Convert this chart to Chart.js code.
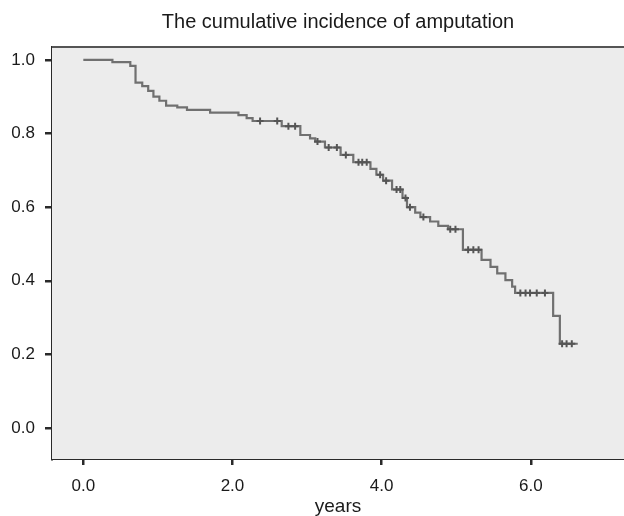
<!DOCTYPE html>
<html>
<head>
<meta charset="utf-8">
<script src="https://cdn.jsdelivr.net/npm/chart.js@4/dist/chart.umd.min.js"></script>
<style>
  html, body { margin: 0; padding: 0; background: #ffffff; overflow: hidden; }
  #wrap { width: 624px; height: 516px; }
</style>
</head>
<body>
<div id="wrap"><canvas id="c" width="624" height="516"></canvas></div>
<script>
// Step curve: event times (years) and survival level after each step
const stepTimes = [0, 0.39, 0.63, 0.70, 0.79, 0.87, 0.94, 1.02, 1.11, 1.26, 1.39, 1.70, 2.08, 2.19, 2.27,
  2.66, 2.91, 3.04, 3.11, 3.24, 3.45, 3.62, 3.85, 3.93, 4.02, 4.14, 4.28, 4.34, 4.45, 4.52, 4.65, 4.76, 4.89,
  5.09, 5.34, 5.46, 5.55, 5.66, 5.75, 5.79, 6.30, 6.39, 6.63];
const stepValues = [1.000, 0.994, 0.984, 0.938, 0.929, 0.916, 0.900, 0.889, 0.876, 0.871, 0.864, 0.857, 0.850, 0.842, 0.834,
  0.820, 0.796, 0.787, 0.778, 0.762, 0.742, 0.722, 0.704, 0.688, 0.672, 0.648, 0.625, 0.600, 0.585, 0.573, 0.561, 0.549, 0.540,
  0.484, 0.457, 0.438, 0.420, 0.402, 0.384, 0.367, 0.305, 0.229, 0.229];

// Censored observations
const censorTimes = [2.37, 2.60, 2.75, 2.84, 3.14, 3.29, 3.40, 3.52, 3.69, 3.74, 3.80, 3.98, 4.06, 4.20, 4.25, 4.32, 4.38,
  4.56, 4.92, 4.99, 5.16, 5.23, 5.30, 5.86, 5.93, 5.99, 6.08, 6.19, 6.42, 6.48, 6.55];
const censorValues = [0.834, 0.834, 0.820, 0.820, 0.778, 0.762, 0.762, 0.742, 0.722, 0.722, 0.722, 0.688, 0.672, 0.648, 0.648, 0.625, 0.600,
  0.573, 0.540, 0.540, 0.484, 0.484, 0.484, 0.367, 0.367, 0.367, 0.367, 0.367, 0.229, 0.229, 0.229];

const xTicks = [0, 2, 4, 6];
const yTicks = [0, 0.2, 0.4, 0.6, 0.8, 1.0];

const chartTitle = 'The cumulative incidence of amputation';
const xTitle = 'years';

const FONT = "'Liberation Sans', Arial, sans-serif";

const bgPlugin = {
  id: 'plotBg',
  beforeDatasetsDraw(chart) {
    const {ctx, chartArea: a} = chart;
    ctx.save();
    ctx.fillStyle = '#ececec';
    ctx.fillRect(a.left, a.top, a.right - a.left, a.bottom - a.top);
    ctx.restore();
  },
  afterDraw(chart) {
    const {ctx, chartArea: a} = chart;
    ctx.save();
    ctx.strokeStyle = '#555';
    ctx.lineWidth = 2;
    ctx.beginPath();
    ctx.moveTo(a.left, a.top);
    ctx.lineTo(a.right, a.top);
    ctx.stroke();
    ctx.restore();
  }
};

new Chart(document.getElementById('c'), {
  type: 'scatter',
  data: {
    datasets: [
      {
        type: 'line',
        data: stepTimes.map((t, i) => ({x: t, y: stepValues[i]})),
        stepped: 'before',
        borderColor: '#707070',
        borderWidth: 2.2,
        pointRadius: 0,
        fill: false,
        order: 2
      },
      {
        type: 'scatter',
        data: censorTimes.map((t, i) => ({x: t, y: censorValues[i]})),
        pointStyle: 'cross',
        pointRadius: 3.5,
        borderColor: '#555555',
        borderWidth: 2,
        backgroundColor: '#555555',
        order: 1
      }
    ]
  },
  options: {
    responsive: false,
    animation: false,
    devicePixelRatio: 1,
    layout: { padding: 0, autoPadding: false },
    plugins: {
      legend: { display: false },
      tooltip: { enabled: false },
      title: {
        display: true,
        text: chartTitle,
        fullSize: false,
        color: '#1a1a1a',
        font: { family: FONT, size: 20, weight: 'normal' },
        padding: { top: 10, bottom: 13 }
      }
    },
    scales: {
      x: {
        type: 'linear',
        min: -0.42,
        max: 7.25,
        afterBuildTicks(scale) { scale.ticks = xTicks.map(v => ({value: v})); },
        afterFit(scale) { scale.height = 57; scale.paddingRight = 0; scale.paddingLeft = 0; },
        ticks: {
          color: '#1a1a1a',
          font: { family: FONT, size: 17 },
          padding: 11,
          maxRotation: 0,
          callback: v => Number(v).toFixed(1)
        },
        grid: { drawOnChartArea: false, drawTicks: true, tickLength: 6, color: '#2a2a2a', lineWidth: 2.5 },
        border: { display: true, color: '#2a2a2a', width: 2 },
        title: {
          display: true,
          text: xTitle,
          color: '#1a1a1a',
          font: { family: FONT, size: 19, lineHeight: 1 },
          padding: { top: 0, bottom: 0 }
        }
      },
      y: {
        type: 'linear',
        min: -0.084,
        max: 1.035,
        afterBuildTicks(scale) { scale.ticks = yTicks.map(v => ({value: v})); },
        afterFit(scale) { scale.width = 52; scale.paddingTop = 0; scale.paddingBottom = 0; },
        ticks: {
          color: '#1a1a1a',
          font: { family: FONT, size: 17 },
          padding: 10,
          callback: v => Number(v).toFixed(1)
        },
        grid: { drawOnChartArea: false, drawTicks: true, tickLength: 7, color: '#2a2a2a', lineWidth: 2.5 },
        border: { display: true, color: '#2a2a2a', width: 2 }
      }
    }
  },
  plugins: [bgPlugin]
});
</script>
</body>
</html>
